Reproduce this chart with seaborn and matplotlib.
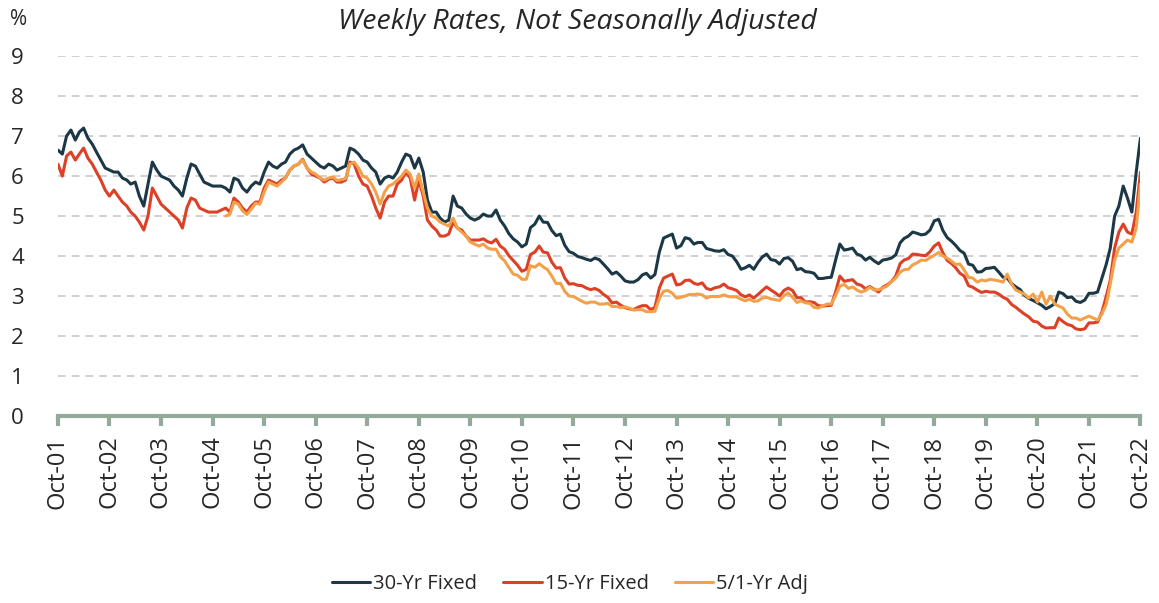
import pandas as pd
import numpy as np
import matplotlib
matplotlib.use("Agg")
import matplotlib.pyplot as plt
import matplotlib.dates as mdates
import seaborn as sns

# monthly readings, Oct 2001 .. Oct 2022
rate_30yr = [
    6.65, 6.55, 7.00,
    7.15, 6.90, 7.10, 7.20, 6.95, 6.80, 6.60, 6.40, 6.20, 6.15, 6.10, 6.10,
    5.95, 5.90, 5.80, 5.85, 5.50, 5.25, 5.80, 6.35, 6.15, 6.00, 5.95, 5.90,
    5.75, 5.65, 5.50, 5.95, 6.30, 6.25, 6.05, 5.85, 5.80, 5.75, 5.75, 5.75,
    5.70, 5.60, 5.95, 5.90, 5.70, 5.60, 5.75, 5.85, 5.80, 6.10, 6.35, 6.25,
    6.20, 6.30, 6.35, 6.55, 6.65, 6.70, 6.78, 6.55, 6.45, 6.35, 6.25, 6.20,
    6.30, 6.25, 6.15, 6.20, 6.25, 6.70, 6.65, 6.55, 6.40, 6.35, 6.20, 6.10,
    5.80, 5.95, 6.00, 5.95, 6.10, 6.35, 6.55, 6.50, 6.20, 6.45, 6.10, 5.40,
    5.10, 5.10, 4.95, 4.85, 4.90, 5.50, 5.25, 5.20, 5.05, 4.95, 4.90, 4.95,
    5.05, 5.00, 5.00, 5.15, 4.90, 4.75, 4.56, 4.43, 4.35, 4.23, 4.30, 4.71,
    4.80, 5.00, 4.85, 4.84, 4.64, 4.51, 4.55, 4.27, 4.11, 4.07, 3.99, 3.96,
    3.92, 3.89, 3.95, 3.91, 3.80, 3.68, 3.55, 3.60, 3.50, 3.38, 3.35, 3.35,
    3.41, 3.53, 3.57, 3.45, 3.54, 4.10, 4.45, 4.50, 4.55, 4.20, 4.26, 4.46,
    4.43, 4.30, 4.34, 4.34, 4.19, 4.16, 4.13, 4.12, 4.16, 4.04, 4.00, 3.86,
    3.67, 3.71, 3.77, 3.67, 3.84, 3.98, 4.05, 3.91, 3.89, 3.80, 3.94, 3.96,
    3.87, 3.66, 3.69, 3.61, 3.60, 3.57, 3.44, 3.44, 3.46, 3.47, 3.90, 4.30,
    4.15, 4.17, 4.20, 4.05, 4.01, 3.90, 3.97, 3.88, 3.81, 3.90, 3.92, 3.95,
    4.03, 4.33, 4.44, 4.50, 4.60, 4.57, 4.53, 4.55, 4.65, 4.88, 4.92, 4.64,
    4.46, 4.37, 4.27, 4.14, 4.07, 3.80, 3.77, 3.60, 3.61, 3.69, 3.70, 3.72,
    3.60, 3.47, 3.45, 3.31, 3.23, 3.16, 3.02, 2.94, 2.89, 2.83, 2.77, 2.68,
    2.74, 2.81, 3.10, 3.06, 2.96, 2.98, 2.87, 2.84, 2.90, 3.07, 3.07, 3.10,
    3.45, 3.80, 4.20, 5.00, 5.25, 5.75, 5.45, 5.10, 6.10, 6.95,
]

rate_15yr = [
    6.30, 6.00, 6.50,
    6.60, 6.40, 6.55, 6.70, 6.45, 6.30, 6.10, 5.90, 5.65, 5.50, 5.65, 5.50,
    5.35, 5.25, 5.10, 5.00, 4.85, 4.65, 5.00, 5.70, 5.50, 5.30, 5.20, 5.10,
    5.00, 4.90, 4.70, 5.20, 5.45, 5.40, 5.20, 5.15, 5.10, 5.10, 5.10, 5.15,
    5.20, 5.10, 5.45, 5.35, 5.20, 5.10, 5.25, 5.35, 5.35, 5.70, 5.90, 5.85,
    5.80, 5.90, 5.95, 6.15, 6.25, 6.30, 6.42, 6.20, 6.05, 6.00, 5.95, 5.85,
    5.92, 5.95, 5.85, 5.85, 5.90, 6.35, 6.30, 6.00, 5.80, 5.75, 5.50, 5.20,
    4.95, 5.35, 5.50, 5.50, 5.80, 5.90, 6.10, 5.95, 5.40, 5.90, 5.50, 4.90,
    4.75, 4.65, 4.50, 4.50, 4.55, 4.85, 4.70, 4.65, 4.50, 4.40, 4.40, 4.40,
    4.43, 4.36, 4.33, 4.42, 4.25, 4.17, 4.01, 3.89, 3.77, 3.62, 3.67, 4.04,
    4.10, 4.25, 4.10, 4.08, 3.85, 3.70, 3.71, 3.45, 3.30, 3.31, 3.27, 3.26,
    3.20, 3.16, 3.19, 3.14, 3.04, 2.97, 2.83, 2.85, 2.77, 2.71, 2.68, 2.66,
    2.72, 2.76, 2.76, 2.66, 2.72, 3.20, 3.45, 3.50, 3.55, 3.28, 3.30, 3.39,
    3.40, 3.32, 3.29, 3.33, 3.19, 3.16, 3.21, 3.23, 3.30, 3.21, 3.18, 3.14,
    3.03, 2.98, 3.03, 2.95, 3.04, 3.14, 3.23, 3.15, 3.08, 3.00, 3.14, 3.20,
    3.14, 2.96, 2.96, 2.85, 2.86, 2.84, 2.76, 2.75, 2.76, 2.77, 3.10, 3.50,
    3.37, 3.39, 3.41, 3.30, 3.27, 3.18, 3.24, 3.17, 3.10, 3.22, 3.28, 3.36,
    3.50, 3.81, 3.90, 3.94, 4.05, 4.04, 4.02, 4.01, 4.11, 4.25, 4.33, 4.08,
    3.89, 3.81, 3.71, 3.57, 3.50, 3.26, 3.22, 3.15, 3.09, 3.12, 3.10, 3.10,
    3.05, 2.97, 2.92, 2.79, 2.72, 2.63, 2.55, 2.48, 2.37, 2.35, 2.25, 2.20,
    2.21, 2.21, 2.45, 2.36, 2.29, 2.26, 2.18, 2.16, 2.18, 2.33, 2.33, 2.35,
    2.60, 3.00, 3.40, 4.20, 4.60, 4.80, 4.60, 4.55, 5.10, 6.10,
]

# 5/1 ARM begins Jan 2005
rate_51arm = [
    5.00, 5.05, 5.35, 5.30, 5.13, 5.04, 5.17, 5.32, 5.30, 5.60, 5.85, 5.80,
    5.75, 5.85, 5.95, 6.15, 6.25, 6.30, 6.40, 6.20, 6.10, 6.05, 5.95, 5.90,
    5.95, 5.98, 5.89, 5.91, 5.94, 6.30, 6.35, 6.20, 6.00, 5.95, 5.80, 5.60,
    5.30, 5.60, 5.75, 5.80, 5.90, 6.00, 6.15, 6.05, 5.70, 6.05, 5.60, 5.20,
    5.00, 4.95, 4.85, 4.80, 4.75, 4.95, 4.70, 4.60, 4.50, 4.35, 4.30, 4.25,
    4.30, 4.20, 4.17, 4.17, 3.98, 3.88, 3.71, 3.55, 3.52, 3.42, 3.42, 3.76,
    3.72, 3.81, 3.73, 3.66, 3.50, 3.31, 3.32, 3.12, 3.00, 2.99, 2.93, 2.87,
    2.82, 2.85, 2.85, 2.80, 2.80, 2.82, 2.74, 2.74, 2.71, 2.73, 2.70, 2.65,
    2.66, 2.66, 2.61, 2.61, 2.62, 2.94, 3.12, 3.14, 3.07, 2.95, 2.97, 3.00,
    3.04, 3.04, 3.05, 3.03, 2.95, 2.99, 2.99, 2.99, 3.03, 2.99, 2.98, 2.98,
    2.92, 2.88, 2.92, 2.87, 2.88, 2.95, 2.97, 2.93, 2.91, 2.89, 3.01, 3.08,
    2.97, 2.84, 2.88, 2.83, 2.82, 2.72, 2.70, 2.75, 2.80, 2.80, 3.01, 3.25,
    3.29, 3.19, 3.23, 3.15, 3.10, 3.14, 3.22, 3.15, 3.16, 3.20, 3.25, 3.36,
    3.45, 3.60, 3.66, 3.67, 3.78, 3.83, 3.90, 3.89, 3.96, 4.02, 4.09, 4.00,
    3.95, 3.87, 3.79, 3.80, 3.65, 3.47, 3.45, 3.35, 3.40, 3.38, 3.42, 3.40,
    3.38, 3.35, 3.55, 3.30, 3.15, 3.10, 3.05, 2.95, 3.05, 2.85, 3.10, 2.80,
    3.00, 2.80, 2.75, 2.70, 2.55, 2.45, 2.45, 2.40, 2.45, 2.50, 2.45, 2.40,
    2.55, 2.80, 3.30, 3.90, 4.20, 4.30, 4.40, 4.35, 4.70, 5.80,
]

series_names = ["30-Yr Fixed", "15-Yr Fixed", "5/1-Yr Adj"]
colors = ["#1c3846", "#dc4027", "#f2a14a"]

dates_fixed = pd.date_range("2001-10-01", periods=len(rate_30yr), freq="MS")
dates_arm = pd.date_range("2005-01-01", periods=len(rate_51arm), freq="MS")

df = pd.concat([
    pd.DataFrame({"date": dates_fixed, "rate": rate_30yr, "series": series_names[0]}),
    pd.DataFrame({"date": dates_fixed, "rate": rate_15yr, "series": series_names[1]}),
    pd.DataFrame({"date": dates_arm, "rate": rate_51arm, "series": series_names[2]}),
])

sns.set_style("white")
plt.rcParams["font.family"] = ["Open Sans", "DejaVu Sans"]

fig = plt.figure(figsize=(11.59, 6.03), dpi=100)
ax = fig.add_axes([0.050, 0.310, 0.934, 0.597])

sns.lineplot(data=df, x="date", y="rate", hue="series", hue_order=series_names,
             palette=colors, linewidth=2.2, ax=ax)

ax.set_ylim(0, 9)
ax.set_yticks(range(0, 10))
ax.set_xlim(pd.Timestamp("2001-10-01"), pd.Timestamp("2022-10-01"))
ax.xaxis.set_major_locator(mdates.MonthLocator(bymonth=10, bymonthday=1))
ax.xaxis.set_major_formatter(mdates.DateFormatter("%b-%y"))
ax.set_xlabel("")
ax.set_ylabel("")

for y in range(1, 10):
    ax.axhline(y, color="#c4c4c4", linestyle=(0, (5, 4)), linewidth=1.1, zorder=0)

for s in ["top", "right", "left"]:
    ax.spines[s].set_visible(False)
ax.spines["bottom"].set_color("#93aa9b")
ax.spines["bottom"].set_linewidth(3)

ax.tick_params(axis="x", which="major", bottom=True, length=7, width=3,
               color="#93aa9b", labelsize=17, labelrotation=90, pad=7)
ax.tick_params(axis="y", left=False, labelsize=16, pad=21)

fig.text(0.009, 0.968, "%", fontsize=15, ha="left", va="center")
fig.text(0.498, 0.963, "Weekly Rates, Not Seasonally Adjusted", fontsize=20.5,
         style="italic", ha="center", va="center")

sns.move_legend(ax, "lower center", bbox_to_anchor=(0.473, -0.545), ncol=3,
                frameon=False, title=None, fontsize=14.5, handlelength=1.9,
                handletextpad=0.15, columnspacing=1.3)

fig.savefig("out.png", dpi=100)
